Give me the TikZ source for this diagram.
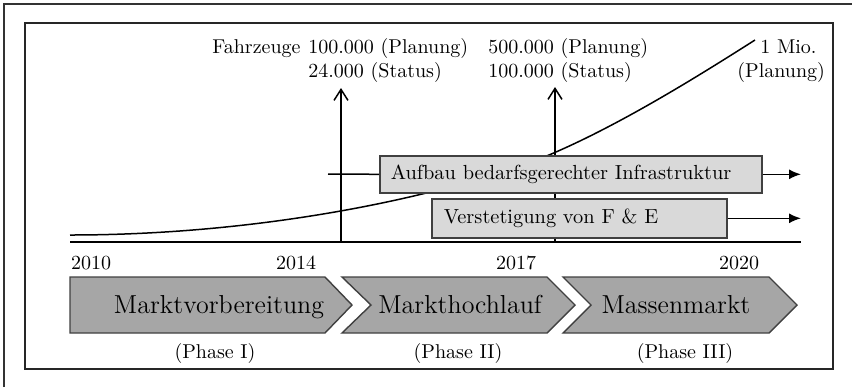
\documentclass[tikz,border=0pt]{standalone}
\usetikzlibrary{arrows.meta}
\begin{document}
\begin{tikzpicture}[x=0.5pt,y=-0.5pt,
  frame/.style={draw=black!85, line width=1pt},
  ln/.style={draw=black, line width=0.75pt},
  bar/.style={draw=black!75, line width=0.8pt, fill=black!15, anchor=north west, align=left, inner ysep=0pt, font=\fontsize{10.2}{12}\selectfont},
  chev/.style={draw=black!75, line width=0.7pt, fill=black!35},
  phase/.style={font=\fontsize{13}{15}\selectfont, inner sep=0pt, anchor=base},
  lbl/.style={font=\fontsize{10}{12}\selectfont, inner sep=0pt},
  up/.style={ln, -{Straight Barb[length=5.5pt,width=7pt]}},
  fwd/.style={ln, -{Latex[length=6pt,width=5pt]}},
]
\useasboundingbox (0,0) rectangle (852,387);
\draw[line width=0.8pt, black!80] (4,387) -- (4,4) -- (852,4);
\draw[frame] (24.5,22.5) rectangle (833,369);

% coordinates
\coordinate (b0) at (70,242);
\coordinate (b9) at (801,242);
\coordinate (v1b) at (341,242);
\coordinate (v1t) at (341,88);
\coordinate (v2b) at (555,242);
\coordinate (v2t) at (555,87);
\coordinate (c0) at (70,235);
\coordinate (cm) at (549,155);
\coordinate (c1) at (755,40);

% growth curve
\draw[ln] (c0) .. controls (260,235) and (440,198) .. (cm) .. controls (620,125) and (700,75) .. (c1);

% time axis and markers
\draw[ln] (b0) -- (b9);
\draw[up] (v1b) -- (v1t);
\draw[up] (v2b) -- (v2t);

% bars
\node[bar, minimum height=18.5pt, text width=180pt, inner xsep=5.5pt] (aufbau) at (379,155) {Aufbau bedarfsgerechter Infrastruktur};
\node[bar, minimum height=19.5pt, text width=135.5pt, inner xsep=6pt] (verst) at (431,198) {Verstetigung von F \& E};
\coordinate (a0) at (328,174);
\coordinate (ax) at (801,174);
\coordinate (fx) at (801,217);
\draw[ln] (a0 -| 328,0) -- (aufbau.west);
\draw[fwd] (aufbau.east) -- (aufbau.east -| ax);
\draw[fwd] (verst.east) -- (verst.east -| fx);

% top labels
\node[lbl, anchor=base west] (fz) at (212,53) {Fahrzeuge};
\node[lbl, anchor=base west] (p1) at (308,53) {100.000 (Planung)};
\node[lbl, anchor=base west] (s1) at (308,77) {24.000 (Status)};
\node[lbl, anchor=base west] (p2) at (488,53) {500.000 (Planung)};
\node[lbl, anchor=base west] (s2) at (488,77) {100.000 (Status)};
\node[lbl, anchor=base west] (p3) at (760,53) {1 Mio.};
\node[lbl, anchor=base west] (p3b) at (737,77) {(Planung)};

% years
\node[lbl, anchor=base] (y10) at (91,269) {2010};
\node[lbl, anchor=base] (y14) at (296,269) {2014};
\node[lbl, anchor=base] (y17) at (516,269) {2017};
\node[lbl, anchor=base] (y20) at (739,269) {2020};

% phases
\draw[chev] (70,277) -- (325,277) -- (352,305) -- (325,333) -- (70,333) -- cycle;
\draw[chev] (342,277) -- (547,277) -- (575,305) -- (547,333) -- (342,333) -- (371,305) -- cycle;
\draw[chev] (563,277) -- (769,277) -- (797,305) -- (769,333) -- (563,333) -- (591,305) -- cycle;
\node[phase] (ph1) at (219,313) {Marktvorbereitung};
\node[phase] (ph2) at (460,313) {Markthochlauf};
\node[phase] (ph3) at (676,313) {Massenmarkt};
\node[lbl, anchor=base] (n1) at (215,358) {(Phase I)};
\node[lbl, anchor=base] (n2) at (458,358) {(Phase II)};
\node[lbl, anchor=base] (n3) at (685,358) {(Phase III)};
\end{tikzpicture}
\end{document}
